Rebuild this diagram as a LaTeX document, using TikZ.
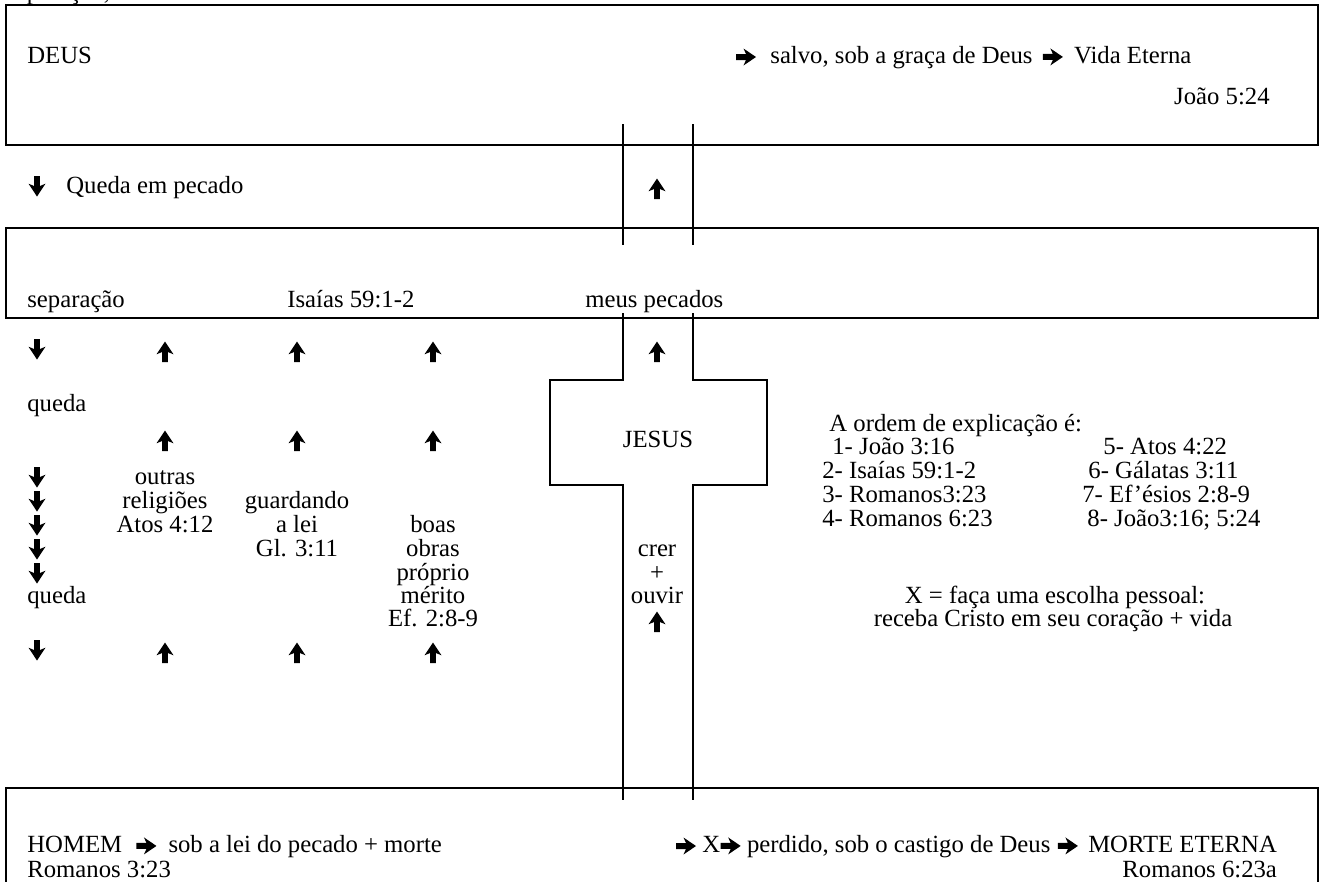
\documentclass[tikz,border=0pt]{standalone}
\usepackage{fontspec}
\setmainfont{Liberation Serif}
\begin{document}
\begin{tikzpicture}[x=0.526pt,y=-0.526pt,
  font=\fontsize{13}{15}\selectfont,
  box/.style={line width=1.1pt},
  crossline/.style={line width=0.6pt},
  txt/.style={anchor=base west, inner sep=0pt},
  ctxt/.style={anchor=base, inner sep=0pt},
  etxt/.style={anchor=base east, inner sep=0pt},
  rarrow/.pic={\fill (-10,-3) -- (0,-3) -- (-2.5,-8.5) -- (10,0) -- (-2.5,8.5) -- (0,3) -- (-10,3) -- cycle;},
  uarrow/.pic={\fill (-2.9,10) -- (-2.9,0) -- (-8.5,2.3) -- (0,-10.5) -- (8.5,2.3) -- (2.9,0) -- (2.9,10) -- cycle;},
  darrow/.pic={\fill (-2.9,-10) -- (-2.9,0) -- (-8.5,-2.3) -- (0,10.5) -- (8.5,-2.3) -- (2.9,0) -- (2.9,-10) -- cycle;}]
\useasboundingbox (0,0) rectangle (1323,881);
\fill[white] (0,0) rectangle (1323,881);

% cut-off line at the top
\node[txt] (frag) at (6,-1) {separação,};

% ---------- DEUS box ----------
\draw[box] (6,5) rectangle (1318,145);
\node[txt] (deus) at (27,63) {DEUS};
\pic (a1) at (746,57) {rarrow};
\node[txt] (salvo) at (770,63) {salvo, sob a graça de Deus};
\coordinate (a2) at ([xshift=10.5pt]salvo.base east);
\pic at ([yshift=3.2pt]a2) {rarrow};
\node[txt] (vida) at ([xshift=21.5pt]salvo.base east) {Vida Eterna};
\node[etxt] (jo524) at (1270,104) {João 5:24};

% ---------- cross, upper part ----------
\draw[crossline] (623,124) -- (623,245);
\draw[crossline] (693,124) -- (693,245);

\pic (d0) at (37,186) {darrow};
\node[txt] (queda0) at (66,193) {Queda em pecado};
\pic (u0) at (657,189) {uarrow};

% ---------- separation box ----------
\draw[box] (6,228) rectangle (1318,318);
\node[txt] (sep) at (27,307) {separação};
\node[txt] (isa) at (287,307) {Isaías 59:1-2};
\node[txt] (meus) at (585,307) {meus pecados};

% ---------- cross, lower part ----------
\draw[crossline] (623,313) -- (623,380) -- (550,380) -- (550,485) -- (623,485) -- (623,800);
\draw[crossline] (693,313) -- (693,380) -- (767,380) -- (767,485) -- (693,485) -- (693,800);
\node[ctxt] (jesus) at (658,447) {JESUS};

% arrows row 1
\pic (d1) at (37,349) {darrow};
\pic (u11) at (165,352) {uarrow};
\pic (u12) at (297,352) {uarrow};
\pic (u13) at (433,352) {uarrow};
\pic (u14) at (657,352) {uarrow};

\node[txt] (queda1) at (27,411) {queda};

% arrows row 2
\pic (u21) at (165,441) {uarrow};
\pic (u22) at (297,441) {uarrow};
\pic (u23) at (433,441) {uarrow};

% left column of falling arrows
\pic (d2) at (37,477) {darrow};
\pic (d3) at (37,501) {darrow};
\pic (d4) at (37,525) {darrow};
\pic (d5) at (37,549) {darrow};
\pic (d6) at (37,573) {darrow};
\node[txt] (queda2) at (27,603) {queda};
\pic (d7) at (37,650) {darrow};

% ways of man
\node[ctxt] (outras) at (165,484) {outras};
\node[ctxt] (relig) at (165,508) {religiões};
\node[ctxt] (atos) at (165,532) {Atos 4:12};
\node[ctxt] (guard) at (297,508) {guardando};
\node[ctxt] (alei) at (297,532) {a lei};
\node[ctxt] (gl) at (297,556) {Gl. 3:11};
\node[ctxt] (boas) at (433,532) {boas};
\node[ctxt] (obras) at (433,556) {obras};
\node[ctxt] (proprio) at (433,580) {próprio};
\node[ctxt] (merito) at (433,603) {mérito};
\node[ctxt] (ef) at (433,626) {Ef. 2:8-9};

\node[ctxt] (crer) at (657,556) {crer};
\node[ctxt] (mais) at (657,580) {+};
\node[ctxt] (ouvir) at (657,603) {ouvir};
\pic (u5) at (657,622) {uarrow};

% arrows row 3
\pic (u31) at (165,653) {uarrow};
\pic (u32) at (297,653) {uarrow};
\pic (u33) at (433,653) {uarrow};

% explanation order
\node[txt] (ordem) at (829,431) {A ordem de explicação é:};
\node[txt] (o1) at (832,454) {1- João 3:16};
\node[txt] (o5) at (1103,454) {5- Atos 4:22};
\node[txt] (o2) at (822,478) {2- Isaías 59:1-2};
\node[txt] (o6) at (1088,478) {6- Gálatas 3:11};
\node[txt] (o3) at (822,502) {3- Romanos3:23};
\node[txt] (o7) at (1082,502) {7- Ef'ésios 2:8-9};
\node[txt] (o4) at (822,526) {4- Romanos 6:23};
\node[txt] (o8) at (1087,526) {8- João3:16; 5:24};

\node[ctxt] (x1) at (1055,603) {X = faça uma escolha pessoal:};
\node[ctxt] (x2) at (1053,626) {receba Cristo em seu coração + vida};

% ---------- HOMEM box ----------
\draw[box] (6,788) rectangle (1318,900);
\node[txt] (homem) at (27,852) {HOMEM};
\coordinate (a3) at ([xshift=12.6pt]homem.base east);
\pic at ([yshift=3.2pt]a3) {rarrow};
\node[txt] (sob) at ([xshift=24pt]homem.base east) {sob a lei do pecado + morte};
\pic (a4) at (686,846) {rarrow};
\node[txt] (xx) at (702,852) {X};
\coordinate (a5) at ([xshift=5.3pt]xx.base east);
\pic at ([yshift=3.2pt]a5) {rarrow};
\node[txt] (perd) at ([xshift=13.7pt]xx.base east) {perdido, sob o castigo de Deus};
\coordinate (a6) at ([xshift=9pt]perd.base east);
\pic at ([yshift=3.2pt]a6) {rarrow};
\node[txt] (morte) at ([xshift=19.5pt]perd.base east) {MORTE ETERNA};
\node[txt] (rom323) at (27,877) {Romanos 3:23};
\node[etxt] (rom623) at ([yshift=-13.15pt]morte.base east) {Romanos 6:23a};
\end{tikzpicture}
\end{document}
